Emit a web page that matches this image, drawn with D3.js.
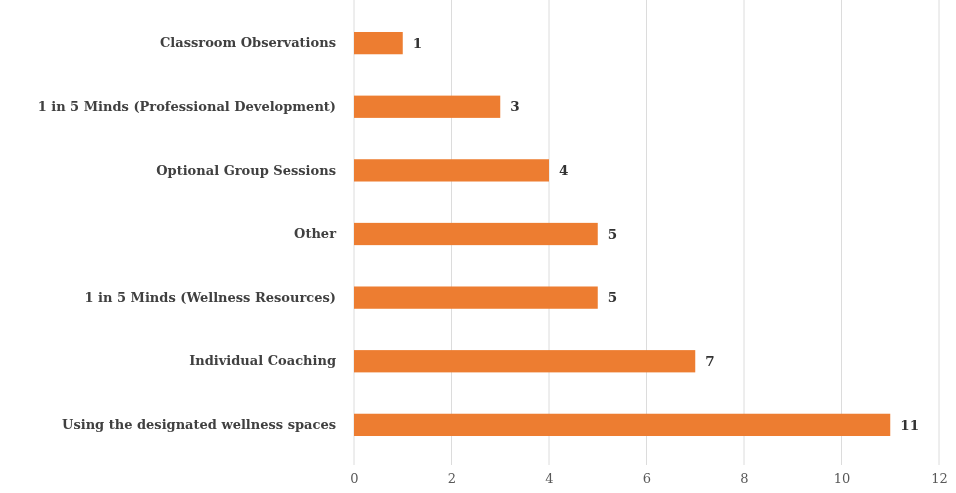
<!DOCTYPE html>
<html>
<head>
<meta charset="utf-8">
<script src="https://cdn.jsdelivr.net/npm/d3@7"></script>
<style>
  html, body { margin: 0; padding: 0; background: #fff; }
  svg { display: block; filter: blur(0.6px); }
  text { font-family: "DejaVu Serif", "Liberation Serif", serif; }
</style>
</head>
<body>
<svg id="chart" width="956" height="493"></svg>
<script>
// Wellness support usage counts (top to bottom)
const categories = [
  "Classroom Observations",
  "1 in 5 Minds (Professional Development)",
  "Optional Group Sessions",
  "Other",
  "1 in 5 Minds (Wellness Resources)",
  "Individual Coaching",
  "Using the designated wellness spaces"
];
const counts = [1, 3, 4, 5, 5, 7, 11];
const xTicks = [0, 2, 4, 6, 8, 10, 12];

const svg = d3.select("#chart");
const margin = { left: 354, right: 16, top: 11, bottom: 36 };
const W = 956, H = 493;

const x = d3.scaleLinear().domain([0, 12]).range([margin.left, W - margin.right - 1]);
const y = d3.scaleBand().domain(categories).range([margin.top, H - margin.bottom]).paddingInner(0.65).paddingOuter(0.33);

// vertical gridlines
svg.append("g")
  .selectAll("line")
  .data(xTicks)
  .join("line")
  .attr("x1", d => x(d)).attr("x2", d => x(d))
  .attr("y1", 0).attr("y2", H - margin.bottom + 8)
  .attr("stroke", "#dcdcdc")
  .attr("stroke-width", 1);

// x axis tick labels
const xAxis = d3.axisBottom(x).tickValues(xTicks).tickSize(0).tickPadding(0);
const gx = svg.append("g").attr("transform", `translate(0, ${H - margin.bottom + 14})`).call(xAxis);
gx.select(".domain").remove();
gx.selectAll("text")
  .attr("font-family", "DejaVu Serif, Liberation Serif, serif")
  .attr("font-size", 13)
  .attr("fill", "#595959")
  .attr("dy", "0.9em");

// category labels
const yAxis = d3.axisLeft(y).tickSize(0).tickPadding(18);
const gy = svg.append("g").attr("transform", `translate(${margin.left}, 0)`).call(yAxis);
gy.select(".domain").remove();
gy.selectAll("text")
  .attr("font-family", "DejaVu Serif, Liberation Serif, serif")
  .attr("font-size", 13)
  .attr("font-weight", "bold")
  .attr("fill", "#404040");

// bars
svg.append("g")
  .selectAll("rect")
  .data(categories)
  .join("rect")
  .attr("x", x(0))
  .attr("y", d => y(d))
  .attr("width", (d, i) => x(counts[i]) - x(0))
  .attr("height", y.bandwidth())
  .attr("fill", "#ED7D31");

// value labels
svg.append("g")
  .selectAll("text")
  .data(categories)
  .join("text")
  .attr("x", (d, i) => x(counts[i]) + 10)
  .attr("y", d => y(d) + y.bandwidth() / 2)
  .attr("dy", "0.35em")
  .attr("font-size", 13.5)
  .attr("font-weight", "bold")
  .attr("fill", "#333")
  .text((d, i) => counts[i]);
</script>
</body>
</html>
